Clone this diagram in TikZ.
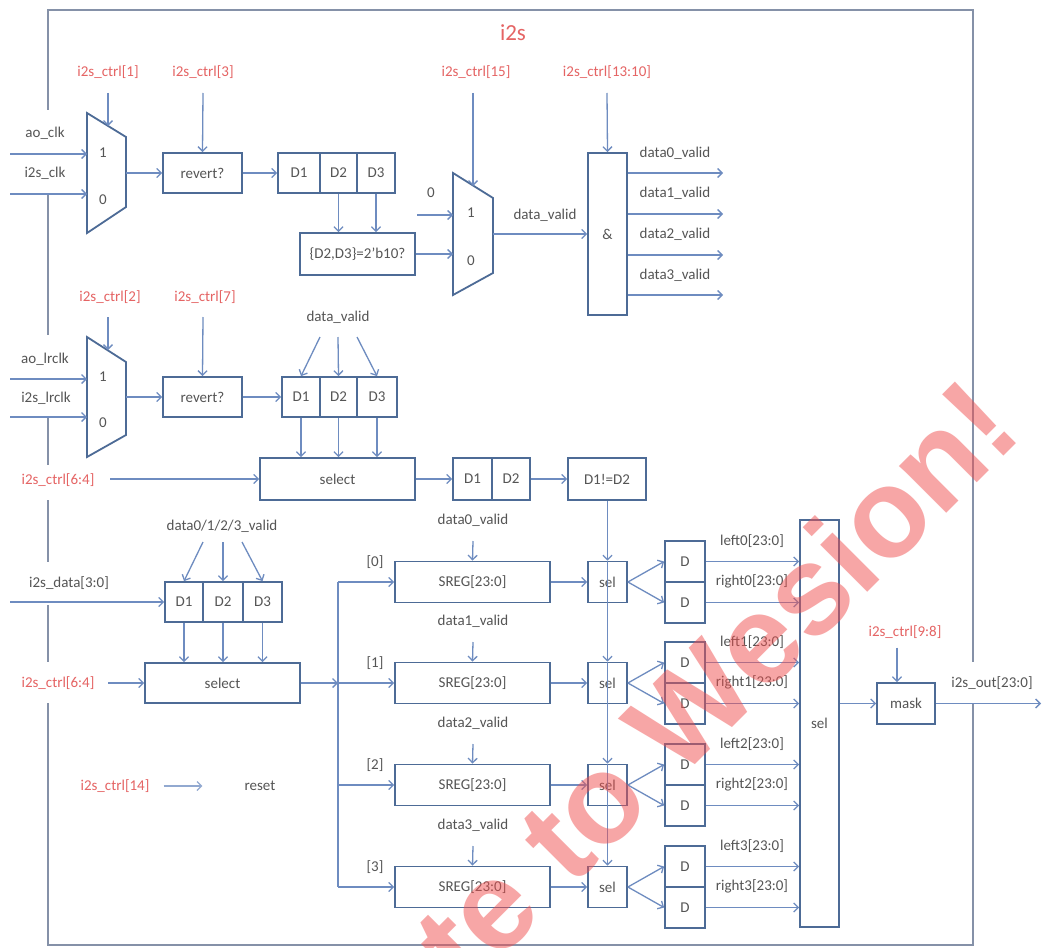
\documentclass[tikz,border=0pt]{standalone}
\usepackage{fontspec}
\setmainfont{Carlito}
\newfontfamily\wmfont{Liberation Sans}
\usetikzlibrary{arrows.meta}

\definecolor{boxc}{HTML}{4D6B96}
\definecolor{linec}{HTML}{6E8CC0}
\definecolor{txt}{HTML}{555555}
\definecolor{redt}{HTML}{E56464}
\definecolor{framec}{HTML}{8591A8}
\definecolor{wm}{HTML}{F04E4E}

% box given by its corners: name, x1, y1, x2, y2, text
\newcommand\mybox[6]{\node[box, minimum width={((#4)-(#2))*1pt}, minimum height={((#5)-(#3))*1pt}] (#1) at ({((#2)+(#4))/2},{((#3)+(#5))/2}) {#6};}

\begin{document}
\begin{tikzpicture}[x=1pt,y=-1pt,
  font=\fontsize{15}{18}\selectfont,
  box/.style={draw=boxc, line width=1.8pt, fill=white, text=txt, inner sep=0pt},
  muxs/.style={draw=boxc, line width=1.8pt, fill=white, line join=miter},
  conn/.style={draw=linec, line width=1.3pt, -{Straight Barb[length=4.5pt,width=9pt]}},
  wire/.style={draw=linec, line width=1.3pt},
  lbl/.style={text=txt, inner sep=1pt},
  ctl/.style={text=redt, inner sep=1pt},
  framel/.style={draw=framec, line width=2.6pt},
]
\clip (0,0) rectangle (1043,947);
\fill[white] (0,0) rectangle (1043,947);

% ---------- module frame ----------
\draw[framel] (48,110) -- (48,10) -- (973,10) -- (973,662);
\draw[framel] (973,703) -- (973,945) -- (48,945) -- (48,703);
\draw[framel] (48,195) -- (48,335);
\draw[framel] (48,418) -- (48,465);
\draw[framel] (48,500) -- (48,562);
\draw[framel] (48,605) -- (48,662);
\node[text=redt, font=\fontsize{23}{26}\selectfont] (title) at (513,33) {i2s};

% ---------- bit clock path ----------
\node[ctl] (ctrl1) at (108,72) {i2s\_ctrl[1]};
\node[ctl] (ctrl3) at (203,72) {i2s\_ctrl[3]};
\node[ctl] (ctrl15) at (476,72) {i2s\_ctrl[15]};
\node[ctl] (ctrl1310) at (607,72) {i2s\_ctrl[13:10]};

\draw[muxs] (87,113) -- (126,137) -- (126,207) -- (87,233) -- cycle;
\node[lbl] (muxA1) at (103,153) {1};
\node[lbl] (muxA0) at (103,200) {0};
\coordinate (muxA-in1) at (87,154);
\coordinate (muxA-in0) at (87,194);
\coordinate (muxA-out) at (126,173);
\coordinate (muxA-sel) at (108,126);

\node[lbl] (aoclk) at (45,133) {ao\_clk};
\node[lbl] (i2sclk) at (45,173) {i2s\_clk};
\coordinate (aoclk-src) at (10,154);
\coordinate (i2sclk-src) at (10,194);
\draw[conn] (aoclk-src) -- (muxA-in1);
\draw[conn] (i2sclk-src) -- (muxA-in0);
\draw[conn] (ctrl1.center) ++(0,21) -- (muxA-sel);

\mybox{revA}{163}{153}{242}{193}{revert?}
\mybox{fa1}{278}{153}{320}{193}{D1}
\mybox{fa2}{320}{153}{357}{193}{D2}
\mybox{fa3}{357}{153}{395}{193}{D3}
\mybox{cmp}{300}{233}{415}{275}{\{D2,D3\}=2'b10?}

\draw[conn] (muxA-out) -- (revA.west);
\draw[conn] (ctrl3.center) ++(0,21) -- (revA.north);
\draw[conn] (revA) -- (fa1);
\draw[conn] (fa2.south) -- (fa2.south |- cmp.north);
\draw[conn] (fa3.south) -- (fa3.south |- cmp.north);

\draw[muxs] (453,173) -- (493,198) -- (493,273) -- (453,295) -- cycle;
\node[lbl] (muxC1) at (471,213) {1};
\node[lbl] (muxC0) at (471,261) {0};
\coordinate (muxC-in1) at (453,215);
\coordinate (muxC-in0) at (453,254);
\coordinate (muxC-out) at (493,234);
\coordinate (muxC-sel) at (473,186);

\node[lbl] (zero) at (431,193) {0};
\draw[conn] (zero.center) ++(-14,22) -- (muxC-in1);
\draw[conn] (cmp.east) -- (muxC-in0);
\draw[conn] (ctrl15.center) ++(-3,21) -- (muxC-sel);

\mybox{andb}{588}{153}{627}{315}{\&}
\node[lbl] (dvalid) at (545,215) {data\_valid};
\draw[conn] (muxC-out) -- (andb.west |- muxC-out);
\draw[conn] (ctrl1310.center) ++(0,21) -- (andb.north);

\coordinate (dv0) at (723,173);
\coordinate (dv1) at (723,214);
\coordinate (dv2) at (723,255);
\coordinate (dv3) at (723,295);
\draw[conn] (andb.east |- dv0) -- (dv0);
\draw[conn] (andb.east |- dv1) -- (dv1);
\draw[conn] (andb.east |- dv2) -- (dv2);
\draw[conn] (andb.east |- dv3) -- (dv3);
\node[lbl] (dv0l) at (675,153) {data0\_valid};
\node[lbl] (dv1l) at (675,193) {data1\_valid};
\node[lbl] (dv2l) at (675,234) {data2\_valid};
\node[lbl] (dv3l) at (675,275) {data3\_valid};

% ---------- frame clock path ----------
\node[ctl] (ctrl2) at (110,297) {i2s\_ctrl[2]};
\node[ctl] (ctrl7) at (205,297) {i2s\_ctrl[7]};

\draw[muxs] (87,337) -- (126,362) -- (126,435) -- (87,457) -- cycle;
\node[lbl] (muxB1) at (103,377) {1};
\node[lbl] (muxB0) at (103,423) {0};
\coordinate (muxB-in1) at (87,379);
\coordinate (muxB-in0) at (87,417);
\coordinate (muxB-out) at (126,397);
\coordinate (muxB-sel) at (108,350);

\node[lbl] (aolrclk) at (45,359) {ao\_lrclk};
\node[lbl] (i2slrclk) at (46,398) {i2s\_lrclk};
\coordinate (aolrclk-src) at (10,379);
\coordinate (i2slrclk-src) at (10,417);
\draw[conn] (aolrclk-src) -- (muxB-in1);
\draw[conn] (i2slrclk-src) -- (muxB-in0);
\draw[conn] (ctrl2.center) ++(-2,20) -- (muxB-sel);

\mybox{revB}{163}{377}{242}{417}{revert?}
\mybox{fb1}{282}{377}{320}{417}{D1}
\mybox{fb2}{320}{377}{357}{417}{D2}
\mybox{fb3}{357}{377}{397}{417}{D3}
\draw[conn] (muxB-out) -- (revB.west);
\draw[conn] (ctrl7.center) ++(-2,20) -- (revB.north);
\draw[conn] (revB) -- (fb1);

\node[lbl] (dvl) at (338,317) {data\_valid};
\draw[conn] (dvl.center) ++(-18,20) -- (fb1.north);
\draw[conn] (dvl.center) ++(0,20) -- (fb2.north);
\draw[conn] (dvl.center) ++(19,20) -- (fb3.north);

\mybox{selA}{260}{458}{415}{500}{select}
\draw[conn] (fb1.south) -- (fb1.south |- selA.north);
\draw[conn] (fb2.south) -- (fb2.south |- selA.north);
\draw[conn] (fb3.south) -- (fb3.south |- selA.north);

\node[ctl] (ctrl64a) at (58,480) {i2s\_ctrl[6:4]};
\draw[conn] (ctrl64a.center) ++(52,-1) -- (selA.west);

\mybox{dd1}{453}{458}{492}{500}{D1}
\mybox{dd2}{492}{458}{530}{500}{D2}
\mybox{neq}{568}{458}{646}{500}{D1!=D2}
\draw[conn] (selA) -- (dd1);
\draw[conn] (dd2) -- (neq);

% ---------- data path ----------
\node[lbl] (dvall) at (222,526) {data0/1/2/3\_valid};
\mybox{fc1}{165}{582}{203}{622}{D1}
\mybox{fc2}{203}{582}{243}{622}{D2}
\mybox{fc3}{243}{582}{282}{622}{D3}
\draw[conn] (dvall.center) ++(-19,16) -- (fc1.north);
\draw[conn] (dvall.center) ++(1,16) -- (fc2.north);
\draw[conn] (dvall.center) ++(20,16) -- (fc3.north);

\node[lbl] (i2sdata) at (69,583) {i2s\_data[3:0]};
\coordinate (i2sdata-src) at (10,602);
\draw[conn] (i2sdata-src) -- (fc1.west);

\mybox{selB}{145}{663}{300}{703}{select}
\draw[conn] (fc1.south) -- (fc1.south |- selB.north);
\draw[conn] (fc2.south) -- (fc2.south |- selB.north);
\draw[conn] (fc3.south) -- (fc3.south |- selB.north);
\node[ctl] (ctrl64b) at (58,683) {i2s\_ctrl[6:4]};
\draw[conn] (ctrl64b.center) ++(50,0) -- (selB.west);

% channel bus
\coordinate (bus0) at (338,582);
\coordinate (bus1) at (338,683);
\coordinate (bus2) at (338,785);
\coordinate (bus3) at (338,887);
\draw[wire] (bus0) -- (bus3);
\draw[conn] (selB.east) -- (bus1);

\mybox{bigsel}{800}{520}{839}{927}{sel}

\foreach \i/\c in {0/582,1/683,2/785,3/887}{
  \mybox{sreg\i}{395}{\c-20.5}{550}{\c+20.5}{SREG[23:0]}
  \mybox{sel\i}{588}{\c-20.5}{627}{\c+20.5}{sel}
  \mybox{du\i}{665}{\c-41}{705}{\c}{D}
  \mybox{dl\i}{665}{\c}{705}{\c+41}{D}
  \node[lbl] (idx\i) at (375,\c-20) {[\i]};
  \node[lbl] (vl\i) at (473,\c-62) {data\i\_valid};
  \node[lbl] (ll\i) at (752,\c-41) {left\i[23:0]};
  \node[lbl] (rl\i) at (752,\c-1) {right\i[23:0]};
  \draw[conn] (bus\i) -- (sreg\i.west);
  \draw[conn] (vl\i.center) ++(0,21) -- (sreg\i.north);
  \draw[conn] (sreg\i) -- (sel\i);
  \draw[conn] (sel\i.east) -- (du\i.west);
  \draw[conn] (sel\i.east) -- (dl\i.west);
  \draw[conn] (du\i.east) -- (du\i.east -| bigsel.west);
  \draw[conn] (dl\i.east) -- (dl\i.east -| bigsel.west);
}

% change detect feeds every channel select
\draw[conn] (neq.south -| sel0.north) -- (sel0.north);
\draw[conn] (sel0.north) -- (sel1.north);
\draw[conn] (sel1.north) -- (sel2.north);
\draw[conn] (sel2.north) -- (sel3.north);

% output masking
\mybox{mask}{877}{683}{935}{724}{mask}
\node[ctl] (ctrl98) at (905,632) {i2s\_ctrl[9:8]};
\draw[conn] (897,652 |- ctrl98.south) ++(0,8) -- (897,0 |- mask.north);
\draw[conn] (mask.west -| bigsel.east) -- (mask.west);
\coordinate (outend) at (1041,703.5);
\draw[conn] (mask.east) -- (outend);
\node[lbl] (outl) at (992,683) {i2s\_out[23:0]};

% soft reset
\node[ctl] (ctrl14) at (115,786) {i2s\_ctrl[14]};
\node[lbl] (rst) at (260,786) {reset};
\draw[conn, draw=linec!75] ([xshift=13pt]ctrl14.east) -- ([xshift=-41pt]rst.west);

% watermark
\node[anchor=base east, rotate=45, text=wm, text opacity=0.5, inner sep=0pt,
      font=\wmfont\bfseries\fontsize{126}{126}\selectfont] (wmark) at (1025,435) {te to Wesion!};
\end{tikzpicture}
\end{document}
